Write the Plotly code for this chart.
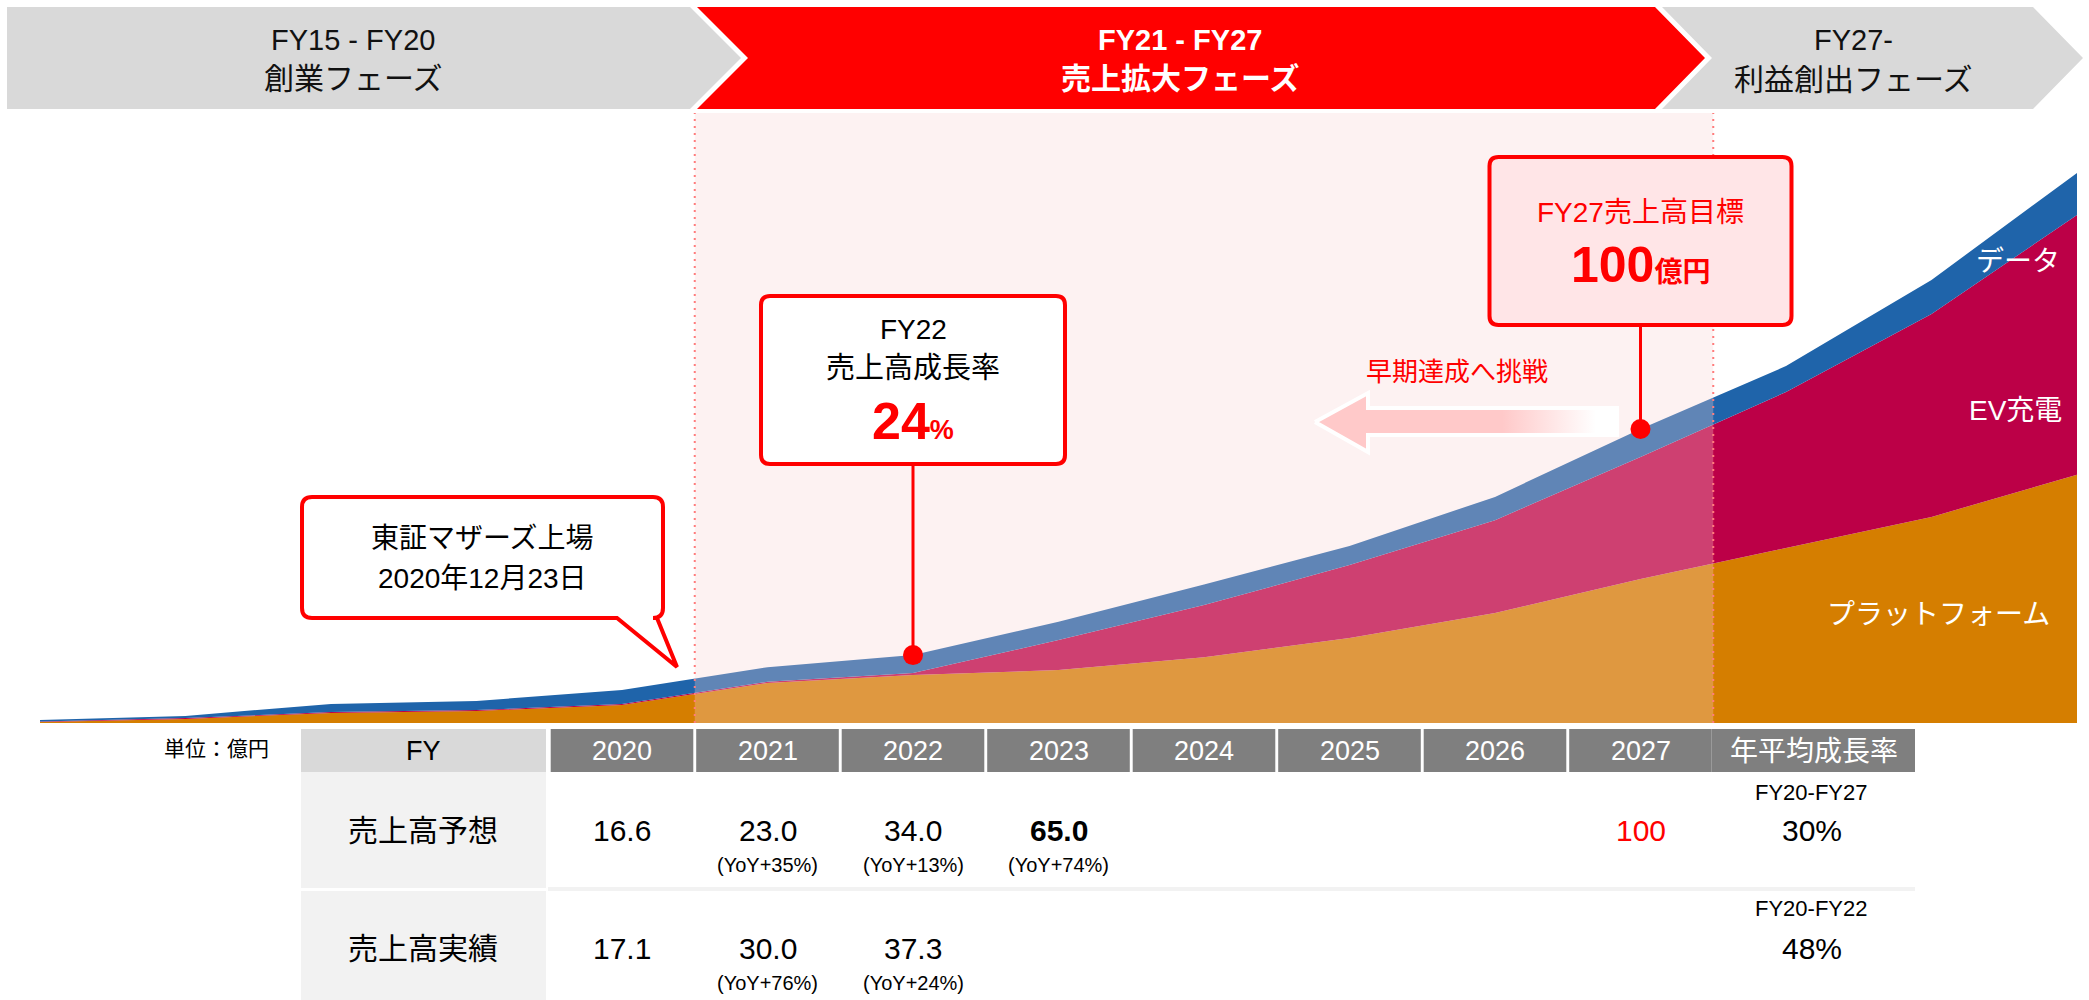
import plotly.graph_objects as go

W, H = 2089, 1000

# ---- stacked revenue segments, FY16 … FY30 (index units, FY27 total = 100) ----
fiscal_years = list(range(2016, 2031))
platform = [0.3, 1.4, 3.4, 4.1, 6.1, 13.6, 16.3, 18.0, 22.4, 28.9, 37.4, 49.0, 59.5, 70.1, 84.4]
ev_charging = [0.2, 0.3, 0.3, 0.3, 0.4, 0.4, 0.7, 10.2, 17.7, 24.8, 31.6, 41.5, 53.1, 69.0, 88.4]
data_service = [0.5, 0.7, 2.8, 3.1, 4.7, 5.0, 6.1, 6.2, 7.0, 6.5, 7.9, 9.5, 8.8, 11.6, 14.3]
series_names = ["プラットフォーム", "EV充電", "データ"]
series_colors = ["#D57E00", "#BC0047", "#1F64AA"]

# ---- table (億円) ----
table_years = [2020, 2021, 2022, 2023, 2024, 2025, 2026, 2027]
forecast_years = [2020, 2021, 2022, 2023, 2027]
forecast_values = [16.6, 23.0, 34.0, 65.0, 100]
forecast_yoy = [None, 35, 13, 74, None]
actual_years = [2020, 2021, 2022]
actual_values = [17.1, 30.0, 37.3]
actual_yoy = [None, 76, 24]
cagr_periods = ["FY20-FY27", "FY20-FY22"]
cagr_values = [30, 48]

target_year = 2027
target_value = 100
growth_year = 2022

# ---- coordinate helpers (pixel layout -> axis units) ----
PX_PER_YEAR = 145.5
X_FY16 = 40
BASE = 723
UNIT = 2.94


def xv(px):
    return 2016 + (px - X_FY16) / PX_PER_YEAR


def yv(py):
    return (BASE - py) / UNIT


def xp(year):
    return X_FY16 + (year - 2016) * PX_PER_YEAR


def pt(px, py):
    return f"{xv(px):.5f},{yv(py):.4f}"


def poly(points):
    return "M" + " L".join(pt(*p) for p in points) + " Z"


def rounded_box(x0, y0, x1, y1, r=9, tail=None):
    s = (f"M{pt(x0 + r, y0)} L{pt(x1 - r, y0)} Q{pt(x1, y0)} {pt(x1, y0 + r)} "
         f"L{pt(x1, y1 - r)} Q{pt(x1, y1)} {pt(x1 - r, y1)}")
    if tail:
        for p in tail:
            s += f" L{pt(*p)}"
    s += (f" L{pt(x0 + r, y1)} Q{pt(x0, y1)} {pt(x0, y1 - r)} "
          f"L{pt(x0, y0 + r)} Q{pt(x0, y0)} {pt(x0 + r, y0)} Z")
    return s


FONT = "Liberation Sans, Noto Sans CJK JP, sans-serif"
RED = "#FF0000"

fig = go.Figure()

# stacked areas
for vals, name, col in zip([platform, ev_charging, data_service], series_names, series_colors):
    fig.add_trace(go.Scatter(x=fiscal_years, y=vals, name=name, stackgroup="rev",
                             mode="none", fillcolor=col, hoverinfo="skip"))

totals = [a + b + c for a, b, c in zip(platform, ev_charging, data_service)]

# FY21–FY27 phase tint over the areas
top_tint = yv(113)
fig.add_trace(go.Scatter(x=[2020.5, 2027.5, 2027.5, 2020.5, 2020.5],
                         y=[0, 0, top_tint, top_tint, 0], fill="toself",
                         fillcolor="rgba(248,212,212,0.30)", mode="none", hoverinfo="skip"))

# "early achievement" arrow with fading fill
arrow_px = [(1315, 422), (1368, 393), (1368, 408), (1617, 408), (1617, 435),
            (1368, 435), (1368, 452), (1315, 422)]
fig.add_trace(go.Scatter(
    x=[xv(p[0]) for p in arrow_px], y=[yv(p[1]) for p in arrow_px],
    fill="toself", mode="lines", line=dict(color="white", width=4), hoverinfo="skip",
    fillgradient=dict(type="horizontal", start=xv(1315), stop=xv(1617),
                      colorscale=[[0, "#FFC9C9"], [0.62, "#FFC9C9"], [0.93, "#FFFFFF"], [1, "#FFFFFF"]])))

shapes = []
ann = []


def label(px, py, text, size, color="#000000", xanchor="center"):
    ann.append(dict(x=xv(px), y=yv(py), xref="x", yref="y", text=text, showarrow=False,
                    xanchor=xanchor, yanchor="middle",
                    font=dict(size=size, color=color, family=FONT)))


# ---- phase banner ----
shapes.append(dict(type="path", path=poly([(7, 7), (690, 7), (741, 58), (690, 109), (7, 109)]),
                   fillcolor="#D9D9D9", line=dict(width=0), xref="x", yref="y"))
shapes.append(dict(type="path", path=poly([(697, 7), (1655, 7), (1705, 58), (1655, 109), (697, 109), (748, 58)]),
                   fillcolor=RED, line=dict(width=0), xref="x", yref="y"))
shapes.append(dict(type="path", path=poly([(1662, 7), (2033, 7), (2083, 58), (2033, 109), (1662, 109), (1712, 58)]),
                   fillcolor="#D9D9D9", line=dict(width=0), xref="x", yref="y"))
label(353, 40, "FY15 - FY20", 29, "#111111")
label(353, 78, "創業フェーズ", 30, "#111111")
label(1180, 40, "<b>FY21 - FY27</b>", 29, "white")
label(1180, 78, "<b>売上拡大フェーズ</b>", 30, "white")
label(1853, 40, "FY27-", 29, "#111111")
label(1853, 79, "利益創出フェーズ", 30, "#111111")

# phase boundaries
for xb in (2020.5, 2027.5):
    shapes.append(dict(type="line", xref="x", yref="y", x0=xb, x1=xb, y0=0, y1=top_tint,
                       line=dict(color="#FF7C7C", width=2, dash="2px,5px")))

# ---- listing callout ----
shapes.append(dict(type="path", xref="x", yref="y",
                   path=rounded_box(302, 497, 663, 618, 10, tail=[(657, 618), (677, 667), (617, 618)]),
                   fillcolor="white", line=dict(color=RED, width=4)))
label(482, 538, "東証マザーズ上場", 28)
label(482, 578, "2020年12月23日", 28)

# ---- FY22 growth callout ----
g_idx = fiscal_years.index(growth_year)
g_px = xp(growth_year)
shapes.append(dict(type="line", xref="x", yref="y", x0=growth_year, x1=growth_year,
                   y0=totals[g_idx], y1=yv(464), line=dict(color=RED, width=3)))
shapes.append(dict(type="path", xref="x", yref="y",
                   path=rounded_box(g_px - 152, 296, g_px + 152, 464, 9),
                   fillcolor="white", line=dict(color=RED, width=4)))
label(g_px, 329, f"FY{growth_year % 100}", 28)
label(g_px, 368, "売上高成長率", 29)
g_yoy = actual_yoy[actual_years.index(growth_year)]
label(g_px, 421, f"<b>{g_yoy}<span style='font-size:27px'>%</span></b>", 52, RED)

# ---- FY27 target callout ----
t_idx = fiscal_years.index(target_year)
t_px = xp(target_year)
shapes.append(dict(type="line", xref="x", yref="y", x0=target_year, x1=target_year,
                   y0=totals[t_idx], y1=yv(325), line=dict(color=RED, width=3)))
shapes.append(dict(type="path", xref="x", yref="y",
                   path=rounded_box(t_px - 151, 157, t_px + 151, 325, 9),
                   fillcolor="#FFE5E7", line=dict(color=RED, width=4)))
label(t_px, 212, f"FY{target_year % 100}売上高目標", 28, RED)
label(t_px, 265, f"<b>{target_value}<span style='font-size:28px'>億円</span></b>", 50, RED)

# dots on the total line
for yr, idx in ((growth_year, g_idx), (target_year, t_idx)):
    shapes.append(dict(type="circle", xref="x", yref="y", xsizemode="pixel", ysizemode="pixel",
                       xanchor=yr, yanchor=totals[idx], x0=-10, x1=10, y0=-10, y1=10,
                       fillcolor=RED, line=dict(width=0)))

label(1457, 372, "早期達成へ挑戦", 26, RED)

# series labels
label(2062, 261, series_names[2], 28, "white", "right")
label(2064, 410, series_names[1], 28, "white", "right")
label(2052, 614, series_names[0], 28, "white", "right")

# ---- table ----
HDR0, HDR1 = 729, 772
ROW1, ROW2 = (772, 888), (891, 1000)
LBL0, LBL1 = 301, 546
CAGR0, CAGR1 = 1712, 1915


def rect(x0, y0, x1, y1, color):
    shapes.append(dict(type="rect", xref="x", yref="y", x0=x0, x1=x1, y0=yv(y1), y1=yv(y0),
                       fillcolor=color, line=dict(width=0), layer="above"))


rect(xv(LBL0), HDR0, xv(LBL1), HDR1, "#D9D9D9")
for yr in table_years:
    rect(yr - 0.5 + 0.01, HDR0, yr + 0.5 - 0.01, HDR1, "#7F7F7F")
    label(xp(yr), 751, str(yr), 27, "white")
rect(xv(CAGR0), HDR0, xv(CAGR1), HDR1, "#7F7F7F")
label(423, 751, "FY", 27)
label((CAGR0 + CAGR1) / 2, 751, "年平均成長率", 28, "white")
label(216, 748, "単位：億円", 21)

rect(xv(LBL0), ROW1[0], xv(LBL1), ROW1[1], "#F2F2F2")
rect(xv(LBL0), ROW2[0], xv(LBL1), ROW2[1], "#F2F2F2")
rect(xv(LBL1 + 2), 887, xv(CAGR1), 891, "#F2F2F2")
label(423, 830, "売上高予想", 30)
label(423, 948, "売上高実績", 30)


def fmt(v):
    return f"{v:.0f}" if v >= 100 else f"{v:.1f}"


for yr, v, yoy in zip(forecast_years, forecast_values, forecast_yoy):
    txt = fmt(v)
    col = "#000000"
    if yr == 2023:
        txt = f"<b>{txt}</b>"
    if yr == target_year:
        col = RED
    label(xp(yr), 830, txt, 30, col)
    if yoy is not None:
        label(xp(yr), 865, f"(YoY+{yoy}%)", 20)

for yr, v, yoy in zip(actual_years, actual_values, actual_yoy):
    label(xp(yr), 948, fmt(v), 30)
    if yoy is not None:
        label(xp(yr), 983, f"(YoY+{yoy}%)", 20)

cx = (CAGR0 + CAGR1) / 2 - 2
for (py_small, py_big), period, val in zip(((792, 830), (908, 948)), cagr_periods, cagr_values):
    label(cx, py_small, period, 22)
    label(cx, py_big, f"{val}%", 30)

fig.update_layout(
    width=W, height=H, margin=dict(l=0, r=0, t=0, b=0),
    paper_bgcolor="white", plot_bgcolor="white",
    showlegend=False, hovermode=False,
    font=dict(family=FONT),
    xaxis=dict(range=[xv(0), xv(W)], domain=[0, 1], visible=False, fixedrange=True),
    yaxis=dict(range=[yv(H), yv(0)], domain=[0, 1], visible=False, fixedrange=True),
    shapes=shapes, annotations=ann,
)

fig.write_html("out.html", config={"displayModeBar": False})
